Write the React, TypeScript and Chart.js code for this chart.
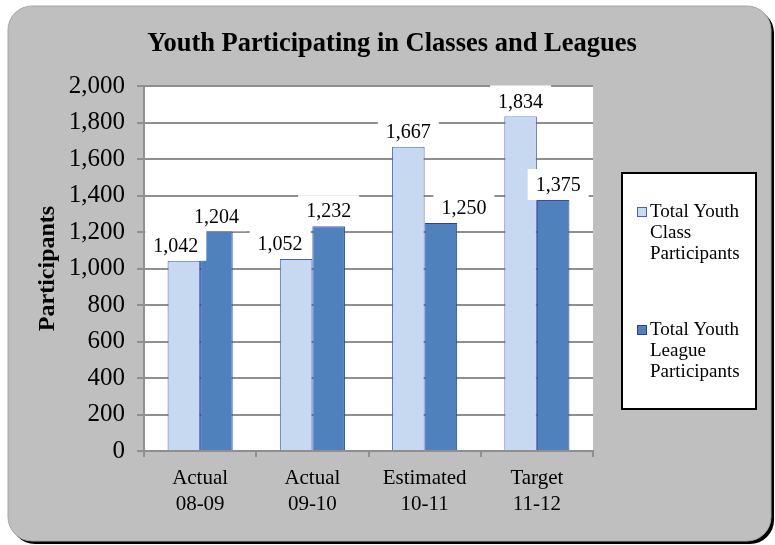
import React, { useEffect, useRef } from 'react';
import { Chart, registerables } from 'chart.js';

Chart.register(...registerables);

const categories: string[][] = [
  ['Actual', '08-09'],
  ['Actual', '09-10'],
  ['Estimated', '10-11'],
  ['Target', '11-12'],
];
const classParticipants = [1042, 1052, 1667, 1834];
const leagueParticipants = [1204, 1232, 1250, 1375];
const seriesNames: string[][] = [
  ['Total Youth', 'Class', 'Participants'],
  ['Total Youth', 'League', 'Participants'],
];
const chartTitle = 'Youth Participating in Classes and Leagues';
const yAxisTitle = 'Participants';
const yMin = 0;
const yMax = 2000;
const yStep = 200;

const SERIF = "'Liberation Serif', 'Times New Roman', serif";
const CLASS_FILL = '#C6D9F1';
const CLASS_BORDER = '#4B5CC4';
const LEAGUE_FILL = '#4F81BD';
const LEAGUE_BORDER = '#2B3FA3';
const GRID = '#8f8f8f';

const fmt = (v: number) => v.toLocaleString('en-US');

const backgroundPlugin = {
  id: 'bgBox',
  beforeDraw(chart: any) {
    const { ctx, chartArea } = chart;
    const x = 8, y = 6, w = 763, h = 535, r = 24;
    const rr = (ox: number, oy: number) => {
      ctx.beginPath();
      ctx.roundRect(x + ox, y + oy, w, h, r);
    };
    ctx.save();
    ctx.fillStyle = '#000000';
    rr(3, 3);
    ctx.fill();
    ctx.fillStyle = '#BFBFBF';
    rr(0, 0);
    ctx.fill();
    ctx.strokeStyle = '#a6a6a6';
    ctx.lineWidth = 1;
    ctx.stroke();
    ctx.fillStyle = '#FFFFFF';
    ctx.fillRect(chartArea.left, chartArea.top, chartArea.right - chartArea.left, chartArea.bottom - chartArea.top);
    ctx.restore();
  },
  afterDraw(chart: any) {
    const { ctx } = chart;
    ctx.save();
    ctx.font = `bold 26.5px ${SERIF}`;
    ctx.fillStyle = '#000000';
    ctx.textAlign = 'center';
    ctx.textBaseline = 'middle';
    ctx.fillText(chartTitle, 392, 44);
    ctx.restore();
  },
};

const dataLabelPlugin = {
  id: 'boxedLabels',
  afterDatasetsDraw(chart: any, _args: any, opts: any) {
    const { ctx } = chart;
    ctx.save();
    ctx.font = `20px ${SERIF}`;
    ctx.textAlign = 'center';
    ctx.textBaseline = 'middle';
    chart.data.datasets.forEach((ds: any, di: number) => {
      const meta = chart.getDatasetMeta(di);
      meta.data.forEach((bar: any, i: number) => {
        const text = fmt(ds.data[i]);
        const shift = (opts.shift && opts.shift[di] && opts.shift[di][i]) || 0;
        const cx = bar.x + shift;
        const tw = ctx.measureText(text).width;
        const bw = tw + 16;
        const bh = 31;
        ctx.fillStyle = '#FFFFFF';
        ctx.fillRect(cx - bw / 2, bar.y - bh, bw, bh);
        ctx.fillStyle = '#000000';
        ctx.fillText(text, cx, bar.y - 14);
      });
    });
    ctx.restore();
  },
};

const legendPlugin = {
  id: 'boxLegend',
  afterDraw(chart: any) {
    const { ctx, chartArea } = chart;
    const left = chartArea.right + 29;
    const top = 173;
    const w = 134;
    const h = 236;
    ctx.save();
    ctx.fillStyle = '#FFFFFF';
    ctx.fillRect(left, top, w, h);
    ctx.strokeStyle = '#000000';
    ctx.lineWidth = 2;
    ctx.strokeRect(left, top, w, h);
    ctx.font = `19px ${SERIF}`;
    ctx.textAlign = 'left';
    ctx.textBaseline = 'middle';
    const starts = [top + 39, top + 157];
    chart.data.datasets.forEach((ds: any, di: number) => {
      const y0 = starts[di];
      ctx.fillStyle = ds.backgroundColor;
      ctx.fillRect(left + 15, y0 - 5, 10, 10);
      ctx.strokeStyle = ds.borderColor;
      ctx.lineWidth = 1;
      ctx.strokeRect(left + 15.5, y0 - 4.5, 9, 9);
      ctx.fillStyle = '#000000';
      seriesNames[di].forEach((line, li) => {
        ctx.fillText(line, left + 28, y0 + li * 21);
      });
    });
    ctx.restore();
  },
};

export default function App() {
  const ref = useRef<HTMLCanvasElement>(null);
  useEffect(() => {
    const chart = new Chart(ref.current as HTMLCanvasElement, {
      type: 'bar',
      data: {
        labels: categories as any,
        datasets: [
          {
            label: seriesNames[0].join(' '),
            data: classParticipants,
            backgroundColor: CLASS_FILL,
            borderColor: CLASS_BORDER,
            borderWidth: 1,
            categoryPercentage: 0.58,
            barPercentage: 1,
          },
          {
            label: seriesNames[1].join(' '),
            data: leagueParticipants,
            backgroundColor: LEAGUE_FILL,
            borderColor: LEAGUE_BORDER,
            borderWidth: 1,
            categoryPercentage: 0.58,
            barPercentage: 1,
          },
        ],
      },
      options: {
        responsive: false,
        animation: false,
        devicePixelRatio: 1,
        layout: { padding: { left: 0, right: 182, top: 86, bottom: 31 } },
        plugins: {
          legend: { display: false },
          tooltip: { enabled: false },
          title: { display: false },
          boxedLabels: { shift: [[-8, -16, 0, 0], [0, 0, 23, 5]] },
        } as any,
        scales: {
          x: {
            offset: true,
            afterFit(scale: any) {
              scale.height = 63;
            },
            grid: {
              offset: true,
              drawOnChartArea: false,
              drawTicks: true,
              tickLength: 6,
              color: GRID,
              lineWidth: 2,
            },
            border: { display: true, color: GRID, width: 2 },
            ticks: {
              color: '#000000',
              font: { family: SERIF, size: 21, lineHeight: 1.24 },
              padding: 8,
              maxRotation: 0,
              autoSkip: false,
            },
          },
          y: {
            min: yMin,
            max: yMax,
            afterFit(scale: any) {
              scale.width = 144;
            },
            grid: { color: GRID, lineWidth: 2, tickLength: 7, drawTicks: true },
            border: { display: true, color: GRID, width: 2 },
            ticks: {
              stepSize: yStep,
              color: '#000000',
              font: { family: SERIF, size: 25 },
              padding: 12,
              callback: (v: any) => fmt(Number(v)),
            },
            title: {
              display: true,
              text: yAxisTitle,
              color: '#000000',
              font: { family: SERIF, size: 24, weight: 'bold' },
              padding: { top: 33, bottom: 0 },
            },
          },
        },
      },
      plugins: [backgroundPlugin, dataLabelPlugin, legendPlugin],
    });
    return () => chart.destroy();
  }, []);
  return (
    <div style={{ position: 'fixed', left: 0, top: 0, width: 775, height: 545 }}>
      <canvas ref={ref} width={775} height={545} style={{ display: 'block' }} />
    </div>
  );
}
